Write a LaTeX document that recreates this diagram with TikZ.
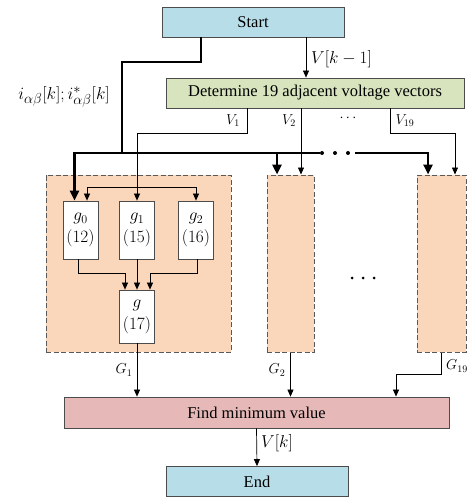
\documentclass[tikz,border=0pt]{standalone}
\usepackage{fontspec}
\setmainfont{Liberation Serif}
\usetikzlibrary{arrows.meta,positioning}

\definecolor{termblue}{RGB}{183,222,232}
\definecolor{detgreen}{RGB}{215,228,189}
\definecolor{findpink}{RGB}{230,185,184}
\definecolor{peach}{RGB}{250,214,187}

\tikzset{
  flowbox/.style={draw=black!70, line width=0.8pt, minimum height=30pt, inner sep=0pt,
    font=\fontsize{16.5}{19}\selectfont},
  calcbox/.style={draw=black!70, fill=white, line width=0.8pt, minimum width=35pt,
    minimum height=58pt, align=center, inner sep=0pt, font=\fontsize{17}{22}\selectfont},
  groupbox/.style={draw=black!65, dashed, dash pattern=on 5pt off 2.5pt, fill=peach,
    line width=1pt, inner sep=0pt},
  bus/.style={line width=2.4pt},
  bigarrow/.style={bus, -{Triangle[length=10pt,width=9pt]}},
  sig/.style={line width=0.7pt, -{Triangle[length=7pt,width=6pt]}},
  lbl/.style={inner sep=1pt, font=\fontsize{17}{19}\selectfont},
  sublbl/.style={inner sep=1pt, font=\fontsize{14}{16}\selectfont}
}

\begin{document}
\begin{tikzpicture}[x=1pt,y=-1pt]
\useasboundingbox (0,0) rectangle (467,497);

% main boxes
\node[flowbox, fill=termblue, minimum width=182pt] (start) at (253,22) {Start};
\node[flowbox, fill=detgreen, minimum width=298pt] (det) at (315,93) {Determine 19 adjacent voltage vectors};

% cost function groups
\node[groupbox, minimum width=185pt, minimum height=177pt] (grp1) at (138.5,263.5) {};
\node[groupbox, minimum width=47pt, minimum height=177pt] (grp2) at (290.5,263.5) {};
\node[groupbox, minimum width=49pt, minimum height=177pt] (grp3) at (441.5,263.5) {};

\node[calcbox] (g0) at (80.5,230) {$g_0$\\$(12)$};
\node[calcbox] (g1) at (137,230) {$g_1$\\$(15)$};
\node[calcbox] (g2) at (196,230) {$g_2$\\$(16)$};
\node[calcbox, minimum height=53pt] (g) at (137,316.5) {$g$\\$(17)$};

\node[flowbox, fill=findpink, minimum width=385pt, minimum height=31pt] (find) at (256.5,412.5) {Find minimum value};
\node[flowbox, fill=termblue, minimum width=182pt] (end) at (257,481.5) {End};

% measured currents (thick bus)
\draw[bus] ([xshift=-52pt]start.south) |- (122,62) -- (122,153);
\draw[bigarrow] (320,153) -| ([xshift=-6pt]g0.north);
\draw[bigarrow] (277,153) -- ([xshift=-13.5pt]grp2.north);
\draw[bigarrow] (355,153) -| ([xshift=-13.5pt]grp3.north);
\foreach \x in {322,335,348}
  \fill (\x,153) circle (2pt);

% voltage vectors
\draw[sig] ([xshift=53pt]start.south) -- ([xshift=-9pt]det.north);
\draw[sig] ([xshift=-68pt]det.south) |- (137,133) -- (g1.north);
\draw[sig] (137,187) -| ([xshift=6.5pt]g0.north);
\draw[sig] (137,187) -| (g2.north);
\draw[sig] ([xshift=-14pt]det.south) -- ([xshift=10.5pt]grp2.north);
\draw[sig] ([xshift=75pt]det.south) |- (455,133) -- ([xshift=13.5pt]grp3.north);

% inside group 1
\draw[sig] ([xshift=-2.5pt]g0.south) |- (125,273) -- ([xshift=-12pt]g.north);
\draw[sig] (g1.south) -- (g.north);
\draw[sig] ([xshift=1pt]g2.south) |- (150,273) -- ([xshift=13pt]g.north);
\foreach \x in {352,363,374}
  \fill (\x,278) circle (1.5pt);

% to minimum search
\draw[sig] (g.south) -- ([xshift=-119.5pt]find.north);
\draw[sig] (grp2.south) -- ([xshift=34pt]find.north);
\draw[sig] (grp3.south) |- (396,374) -- ([xshift=139.5pt]find.north);
\draw[sig] (find.south) -- (end.north);

% labels
\node[lbl, font=\fontsize{19}{21}\selectfont] (iab) at (64,97) {$i_{\alpha\beta}\bigl[k\bigr];i^{*}_{\alpha\beta}\bigl[k\bigr]$};
\node[lbl, anchor=west] (vprev) at (310,59) {$V\bigl[k-1\bigr]$};
\node[sublbl] (v1) at (233,121) {$V_1$};
\node[sublbl] (v2) at (289,121) {$V_2$};
\node[sublbl] (vdots) at (348,118) {$\cdots$};
\node[sublbl] (v19) at (405,121) {$V_{19}$};
\node[sublbl] (gg1) at (124,370) {$G_1$};
\node[sublbl] (gg2) at (277,370) {$G_2$};
\node[sublbl, anchor=west] (gg19) at (445,366) {$G_{19}$};
\node[lbl, anchor=west] (vk) at (260,443) {$V\bigl[k\bigr]$};
\end{tikzpicture}
\end{document}
